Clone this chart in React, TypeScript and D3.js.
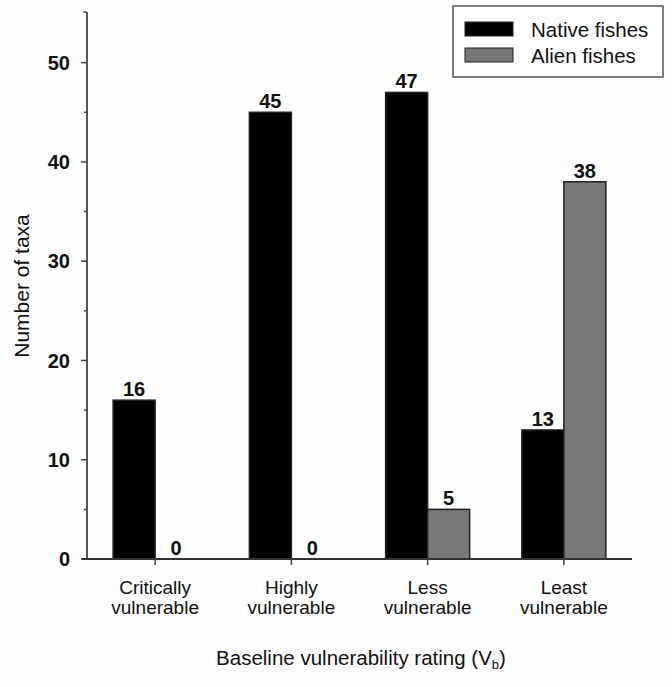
import React from 'react';
import * as d3 from 'd3';

const categories = ['Critically|vulnerable', 'Highly|vulnerable', 'Less|vulnerable', 'Least|vulnerable'];
const seriesNames = ['Native fishes', 'Alien fishes'];
const nativeValues = [16, 45, 47, 13];
const alienValues = [0, 0, 5, 38];
const yTicks = [0, 10, 20, 30, 40, 50];
const yMinorTicks = [5, 15, 25, 35, 45];
const colors = ['#000000', '#787878'];

const W = 672;
const H = 687;
const FONT = '"Liberation Sans", Arial, sans-serif';

export default function App() {
  const x = d3.scaleBand().domain(categories).range([87, 632]);
  const y = d3.scaleLinear().domain([0, 55]).range([559, 13]);
  const barW = 42;
  const series = [nativeValues, alienValues];

  return (
    <svg width={W} height={H} style={{ position: 'absolute', left: 0, top: 0, background: '#fdfdfd' }}
      fontFamily={FONT}>
      {/* bars */}
      {series.map((vals, si) =>
        vals.map((v, i) => {
          const cx = x(categories[i])! + x.bandwidth() / 2;
          const bx = si === 0 ? cx - barW : cx;
          return (
            <g key={`${si}-${i}`}>
              {v > 0 && (
                <rect x={bx} y={y(v)} width={barW} height={y(0) - y(v)}
                  fill={colors[si]} stroke="#222" strokeWidth={1.5} />
              )}
              <text x={bx + barW / 2} y={y(v) - 4} textAnchor="middle"
                fontSize={20} fontWeight="bold" fill="#111">{v}</text>
            </g>
          );
        })
      )}

      {/* y axis */}
      <line x1={87} x2={87} y1={y(0)} y2={12} stroke="#555" strokeWidth={2} />
      <line x1={87} x2={83} y1={12} y2={12} stroke="#555" strokeWidth={1.5} />
      {yTicks.map(t => (
        <g key={t}>
          <line x1={81} x2={87} y1={y(t)} y2={y(t)} stroke="#444" strokeWidth={1.5} />
          <text x={70} y={y(t)} dy="0.36em" textAnchor="end" fontSize={20} fontWeight="bold" fill="#111">{t}</text>
        </g>
      ))}
      {yMinorTicks.map(t => (
        <line key={t} x1={84} x2={87} y1={y(t)} y2={y(t)} stroke="#444" strokeWidth={1.5} />
      ))}

      {/* x axis */}
      <line x1={82} x2={632} y1={y(0)} y2={y(0)} stroke="#333" strokeWidth={2} />
      {categories.map(c => {
        const cx = x(c)! + x.bandwidth() / 2;
        const [l1, l2] = c.split('|');
        return (
          <g key={c}>
            <line x1={cx} x2={cx} y1={y(0)} y2={y(0) + 6} stroke="#444" strokeWidth={1.5} />
            <text x={cx} y={594} textAnchor="middle" fontSize={19} fill="#111">{l1}</text>
            <text x={cx} y={614} textAnchor="middle" fontSize={19} fill="#111">{l2}</text>
          </g>
        );
      })}

      {/* axis titles */}
      <text x={361} y={665} textAnchor="middle" fontSize={20.5} fill="#111">
        Baseline vulnerability rating (V<tspan fontSize={13} dy={4}>b</tspan><tspan dy={-4}>)</tspan>
      </text>
      <text transform="translate(29,286) rotate(-90)" textAnchor="middle" fontSize={21} fill="#111">Number of taxa</text>

      {/* legend */}
      <rect x={453} y={6} width={210} height={71} fill="#fff" stroke="#555" strokeWidth={1.5} />
      {seriesNames.map((s, i) => (
        <g key={s}>
          <rect x={465} y={22 + i * 26} width={48} height={14} fill={colors[i]} stroke="#222" strokeWidth={1} />
          <text x={531} y={37 + i * 26} fontSize={20.5} fill="#111">{s}</text>
        </g>
      ))}
    </svg>
  );
}
